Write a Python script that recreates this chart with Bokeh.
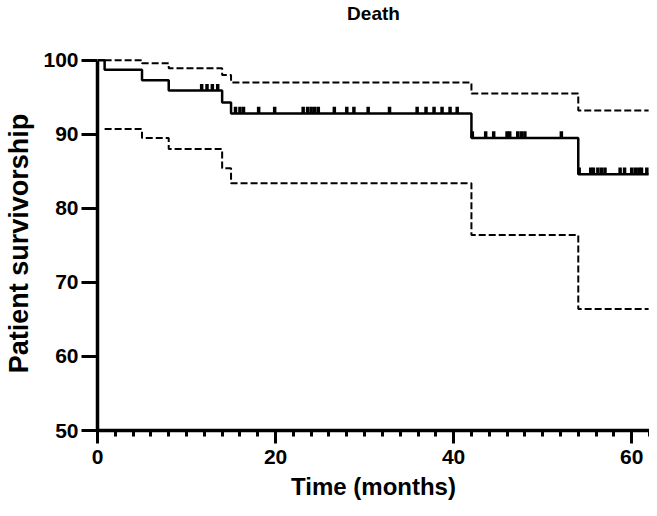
import numpy as np
from bokeh.plotting import figure
from bokeh.models import Range1d, SingleIntervalTicker, Title
from bokeh.embed import file_html
from bokeh.resources import INLINE

# ---- data ----
event_times = [0, 0.8, 5, 8, 14, 15, 42, 54]
survival = [100, 98.7, 97.3, 95.9, 94.3, 92.8, 89.5, 84.6]
end_time = 61.9

ci_times = [0.8, 5, 8, 14, 15, 42, 54]
ci_upper = [100.0, 99.6, 98.9, 98.0, 97.0, 95.5, 93.2]
ci_lower = [90.7, 89.5, 88.0, 85.4, 83.4, 76.4, 66.4]

censor_times = [11.7, 12.3, 12.9, 13.5,
                15.5, 16.0, 16.4, 18.1, 19.9, 23.1, 23.6, 24.0, 24.4, 24.8,
                26.6, 28.0, 28.8, 30.4, 32.8, 35.9, 36.9, 37.8, 38.7, 39.6, 40.4,
                42.1, 43.6, 44.5, 46.0, 46.3, 47.2, 47.6, 48.0, 52.1,
                54.1, 55.4, 55.7, 56.2, 56.6, 57.0, 58.7, 59.2, 60.0, 60.4,
                60.8, 61.1, 61.7]

x_ticks_major = 20
y_ticks_major = 10

FONT = "Liberation Sans"

p = figure(width=649, height=508,
           x_range=Range1d(0, 62.0), y_range=Range1d(50, 100.5),
           output_backend="svg", toolbar_location=None,
           min_border_left=97, min_border_right=0,
           min_border_top=56, min_border_bottom=78)
p.title.text = ""

# spacer between frame and title, then the title itself (stacked outward)
p.add_layout(Title(text=" ", text_font_size="18px", standoff=9), "above")
p.add_layout(Title(text="Death", align="center", vertical_align="top",
                   text_font=FONT, text_font_style="bold",
                   text_font_size="19px", text_color="black", standoff=0), "above")

p.xgrid.visible = False
p.ygrid.visible = False
p.outline_line_color = None

# step curves
st = list(event_times) + [end_time]
sv = list(survival) + [survival[-1]]
p.step(st, sv, mode="after", line_color="black", line_width=2.5)

ct = list(ci_times) + [end_time]
cu = list(ci_upper) + [ci_upper[-1]]
cl = list(ci_lower) + [ci_lower[-1]]
p.step(ct, cu, mode="after", line_color="black", line_width=2, line_dash="7 3")
p.step(ct, cl, mode="after", line_color="black", line_width=2, line_dash="7 3")

# censor marks
idx = np.searchsorted(np.array(event_times), np.array(censor_times), side="right") - 1
levels = np.array(survival)[idx]
p.segment(x0=censor_times, y0=levels, x1=censor_times, y1=levels + 0.9,
          line_color="black", line_width=3.5)

# axes
xa = p.xaxis[0]
xa.ticker = SingleIntervalTicker(interval=x_ticks_major, num_minor_ticks=10)
xa.axis_label = "Time (months)"
ya = p.yaxis[0]
ya.ticker = SingleIntervalTicker(interval=y_ticks_major, num_minor_ticks=0)
ya.axis_label = "Patient survivorship"
ya.bounds = (50, 100)

for ax in (xa, ya):
    ax.axis_line_width = 3.5
    ax.axis_line_color = "black"
    ax.major_tick_line_width = 3
    ax.major_tick_line_color = "black"
    ax.major_tick_in = 0
    ax.major_tick_out = 14
    ax.minor_tick_line_width = 3
    ax.minor_tick_line_color = "black"
    ax.minor_tick_in = 0
    ax.minor_tick_out = 6
    ax.major_label_text_font = FONT
    ax.major_label_text_font_style = "bold"
    ax.major_label_text_font_size = "21px"
    ax.major_label_text_color = "black"
    ax.axis_label_text_font = FONT
    ax.axis_label_text_font_style = "bold"
    ax.axis_label_text_color = "black"

xa.axis_label_text_font_size = "24px"
ya.axis_label_text_font_size = "27px"
xa.major_tick_out = 13
xa.major_label_standoff = 6
xa.axis_label_standoff = 6
ya.major_tick_out = 16
ya.major_label_standoff = 3
ya.axis_label_standoff = 6

open("out.html", "w").write(file_html(p, INLINE))
